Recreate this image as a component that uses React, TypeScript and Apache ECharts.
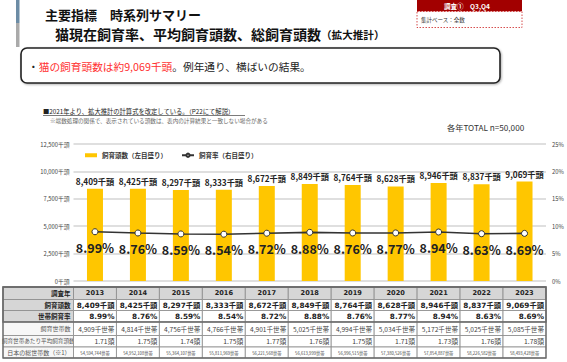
import React, { useEffect, useRef } from "react";
import * as echarts from "echarts";

const years = ["2013", "2014", "2015", "2016", "2017", "2018", "2019", "2020", "2021", "2022", "2023"];
const catCount = [8409, 8425, 8297, 8333, 8672, 8849, 8764, 8628, 8946, 8837, 9069];
const ownRate = [8.99, 8.76, 8.59, 8.54, 8.72, 8.88, 8.76, 8.77, 8.94, 8.63, 8.69];
const households = [4909, 4814, 4756, 4766, 4901, 5025, 4994, 5034, 5172, 5025, 5085];
const avgPerHousehold = [1.71, 1.75, 1.74, 1.75, 1.77, 1.76, 1.75, 1.71, 1.73, 1.76, 1.78];
const totalHouseholds = [54594744, 54952108, 55364107, 55811969, 56221568, 56613999, 56996515, 57380526, 57854887, 58226582, 58493428];
const rowLabels = ["調査年", "飼育頭数", "世帯飼育率", "飼育世帯数", "飼育世帯あたり平均飼育頭数", "日本の総世帯数（※1）"];
const seriesNames = ["飼育頭数（左目盛り）", "飼育率（右目盛り）"];

const FONT = "'Noto Sans CJK JP', 'Noto Sans', sans-serif";
const NUMFONT = "'DejaVu Sans', 'Noto Sans CJK JP', sans-serif";
const fmt = (n: number) => n.toLocaleString("en-US");

const W = 567;
const H = 362;
const GRID_LEFT = 73.5;
const GRID_RIGHT = 21;
const GRID_TOP = 144;
const GRID_BOTTOM = 81;

function buildTable(): any[] {
  const els: any[] = [];
  const x0 = 3;
  const x1 = GRID_LEFT;
  const colW = (W - GRID_LEFT - GRID_RIGHT) / years.length;
  const rowH = [12.5, 11, 11.5, 13.5, 11.5, 11];
  const top = 287;
  const rowsText: string[][] = [
    years,
    catCount.map((v) => fmt(v) + "千頭"),
    ownRate.map((v) => v.toFixed(2) + "%"),
    households.map((v) => fmt(v) + "千世帯"),
    avgPerHousehold.map((v) => v.toFixed(2) + "頭"),
    totalHouseholds.map((v) => fmt(v) + "世帯"),
  ];
  let y = top;
  for (let r = 0; r < rowH.length; r++) {
    const h = rowH[r];
    const labelFill = r <= 2 ? "#d6d6d6" : "#f7f7f7";
    els.push({
      type: "rect",
      shape: { x: x0, y, width: x1 - x0, height: h },
      style: { fill: labelFill, stroke: "#8a8a8a", lineWidth: 0.8 },
    });
    const labelBold = r <= 2;
    const labelSize = r <= 2 ? 6.5 : r === 4 ? 5.6 : 6;
    els.push({
      type: "text",
      x: r === 4 ? (x0 + x1) / 2 : x1 - 3,
      y: y + h / 2,
      style: {
        text: rowLabels[r],
        fontFamily: FONT,
        fontSize: labelSize,
        fontWeight: labelBold ? "bold" : "normal",
        fill: labelBold ? "#222" : "#555",
        align: r === 4 ? "center" : "right",
        verticalAlign: "middle",
      },
    });
    for (let c = 0; c < years.length; c++) {
      const cx = x1 + c * colW;
      els.push({
        type: "rect",
        shape: { x: cx, y, width: colW, height: h },
        style: { fill: r === 0 ? "#d6d6d6" : "#ffffff", stroke: "#8a8a8a", lineWidth: 0.8 },
      });
      let size = 7;
      let weight = "normal";
      let color = "#444";
      let align = "right";
      let tx = cx + colW - 2;
      let family = NUMFONT;
      if (r === 0) {
        size = 6.6;
        weight = "bold";
        color = "#222";
        align = "center";
        tx = cx + colW / 2;
      } else if (r === 1 || r === 2) {
        size = 7.3;
        weight = "bold";
        color = "#222";
      } else if (r === 3) {
        size = 6.6;
        family = FONT;
      } else if (r === 4) {
        size = 6.8;
        family = FONT;
      } else {
        size = 4.2;
        align = "center";
        tx = cx + colW / 2;
        family = FONT;
      }
      els.push({
        type: "text",
        x: tx,
        y: y + h / 2,
        style: {
          text: rowsText[r][c],
          fontFamily: family,
          fontSize: size,
          fontWeight: weight,
          fill: color,
          align,
          verticalAlign: "middle",
        },
      });
    }
    y += h;
  }
  const tableH = rowH.reduce((a, b) => a + b, 0);
  const firstBlockH = rowH[0] + rowH[1] + rowH[2];
  els.push({
    type: "rect",
    shape: { x: x0, y: top, width: W - GRID_RIGHT - x0, height: firstBlockH },
    style: { fill: "none", stroke: "#6a6a6a", lineWidth: 1.3 },
  });
  els.push({
    type: "rect",
    shape: { x: x0, y: top, width: W - GRID_RIGHT - x0, height: tableH },
    style: { fill: "none", stroke: "#6a6a6a", lineWidth: 1.3 },
  });
  return els;
}

function buildHeader(): any[] {
  return [
    { type: "rect", shape: { x: 16, y: 0, width: 3.5, height: 23 }, style: { fill: "#6c8ca5" } },
    { type: "rect", shape: { x: 16, y: 23, width: 3.5, height: 24 }, style: { fill: "#aaaaaa" } },
    {
      type: "text",
      x: 45,
      y: 14,
      style: { text: "主要指標　時系列サマリー", fontFamily: FONT, fontSize: 13, fontWeight: "bold", fill: "#111", verticalAlign: "middle" },
    },
    {
      type: "text",
      x: 55,
      y: 34,
      style: {
        text: "{a|猫現在飼育率、平均飼育頭数、総飼育頭数}{b|（拡大推計）}",
        fontFamily: FONT,
        fill: "#111",
        verticalAlign: "middle",
        rich: {
          a: { fontSize: 14, fontWeight: "bold", fontFamily: FONT, fill: "#111" },
          b: { fontSize: 10.6, fontWeight: "bold", fontFamily: FONT, fill: "#111" },
        },
      },
    },
    { type: "rect", shape: { x: 417, y: 0, width: 105, height: 11.5 }, style: { fill: "#a20000" } },
    {
      type: "text",
      x: 467,
      y: 6,
      style: { text: "調査①　Q3,Q4", fontFamily: FONT, fontSize: 6.5, fontWeight: "bold", fill: "#fff", align: "center", verticalAlign: "middle" },
    },
    {
      type: "rect",
      shape: { x: 417, y: 11.5, width: 105, height: 16 },
      style: { fill: "#fff", stroke: "#c22", lineWidth: 0.8, lineDash: [1.5, 1.5] },
    },
    {
      type: "text",
      x: 421,
      y: 20,
      style: { text: "集計ベース：全数", fontFamily: FONT, fontSize: 5.5, fill: "#333", verticalAlign: "middle" },
    },
    {
      type: "rect",
      shape: { x: 21, y: 48, width: 479, height: 35, r: 6 },
      style: { fill: "#fff", stroke: "#222", lineWidth: 1.6, shadowBlur: 2, shadowColor: "rgba(0,0,0,0.3)", shadowOffsetX: 1, shadowOffsetY: 1 },
    },
    {
      type: "text",
      x: 28,
      y: 66,
      style: {
        text: "{k|・}{r|猫の飼育頭数は約9,069千頭}{k|。例年通り、横ばいの結果。}",
        fontFamily: FONT,
        verticalAlign: "middle",
        rich: {
          k: { fontSize: 10.7, fontFamily: FONT, fill: "#222" },
          r: { fontSize: 10.7, fontFamily: FONT, fill: "#ff3030" },
        },
      },
    },
    {
      type: "text",
      x: 43,
      y: 111.5,
      style: { text: "■2021年より、拡大推計の計算式を改定している。（P22にて解説）", fontFamily: FONT, fontSize: 6.3, fill: "#222", verticalAlign: "middle" },
    },
    { type: "line", shape: { x1: 43, y1: 115.5, x2: 245, y2: 115.5 }, style: { stroke: "#222", lineWidth: 0.6 } },
    {
      type: "text",
      x: 50,
      y: 121,
      style: { text: "※端数処理の関係で、表示されている頭数は、表内の計算結果と一致しない場合がある", fontFamily: FONT, fontSize: 5.6, fill: "#666", verticalAlign: "middle" },
    },
    {
      type: "text",
      x: 447,
      y: 127,
      style: { text: "各年TOTAL n=50,000", fontFamily: FONT, fontSize: 8.2, fill: "#333", verticalAlign: "middle" },
    },
  ];
}

export default function App() {
  const ref = useRef<HTMLDivElement>(null);
  useEffect(() => {
    if (!ref.current) return;
    const chart = echarts.init(ref.current, undefined, { renderer: "svg" });
    chart.setOption({
      animation: false,
      backgroundColor: "#fff",
      textStyle: { fontFamily: FONT },
      legend: {
        left: 80,
        top: 147,
        itemWidth: 12,
        itemHeight: 4,
        itemGap: 14,
        textStyle: { fontSize: 6.5, fontWeight: "bold", color: "#333", fontFamily: FONT },
        data: [
          { name: seriesNames[0], icon: "rect" },
          { name: seriesNames[1] },
        ],
      },
      grid: { left: GRID_LEFT, right: GRID_RIGHT, top: GRID_TOP, bottom: GRID_BOTTOM, containLabel: false },
      xAxis: {
        type: "category",
        data: years,
        axisLabel: { show: false },
        axisTick: { show: false },
        axisLine: { show: false },
      },
      yAxis: [
        {
          type: "value",
          min: 0,
          max: 12500,
          interval: 2500,
          axisLabel: { formatter: (v: number) => fmt(v) + "千頭", fontSize: 5.8, color: "#444", fontFamily: FONT, margin: 4 },
          splitLine: { lineStyle: { color: "#d4d4d4", width: 1.6 } },
          axisLine: { show: false },
          axisTick: { show: false },
        },
        {
          type: "value",
          min: 0,
          max: 25,
          interval: 5,
          axisLabel: { formatter: (v: number) => v + "%", fontSize: 5.8, color: "#444", fontFamily: FONT, margin: 6 },
          splitLine: { show: false },
          axisLine: { show: false },
          axisTick: { show: false },
        },
      ],
      series: [
        {
          name: seriesNames[0],
          type: "bar",
          data: catCount,
          barWidth: 16,
          itemStyle: { color: "#ffc600" },
          label: {
            show: true,
            position: "top",
            distance: 4,
            formatter: (p: any) => fmt(p.value) + "千頭",
            fontSize: 8.2,
            fontWeight: "bold",
            color: "#222",
            fontFamily: FONT,
          },
        },
        {
          name: seriesNames[1],
          type: "line",
          yAxisIndex: 1,
          data: ownRate,
          symbol: "circle",
          symbolSize: 6,
          lineStyle: { color: "#333", width: 1.6 },
          itemStyle: { color: "#fff", borderColor: "#333", borderWidth: 1 },
          label: {
            show: true,
            position: "bottom",
            distance: 6,
            formatter: (p: any) => p.value.toFixed(2) + "%",
            fontSize: 12.5,
            fontWeight: "bold",
            color: "#222",
            fontFamily: FONT,
          },
          z: 5,
        },
      ],
      graphic: [...buildHeader(), ...buildTable()],
    });
    return () => chart.dispose();
  }, []);
  return <div ref={ref} style={{ position: "absolute", left: 0, top: 0, width: W, height: H }} />;
}
